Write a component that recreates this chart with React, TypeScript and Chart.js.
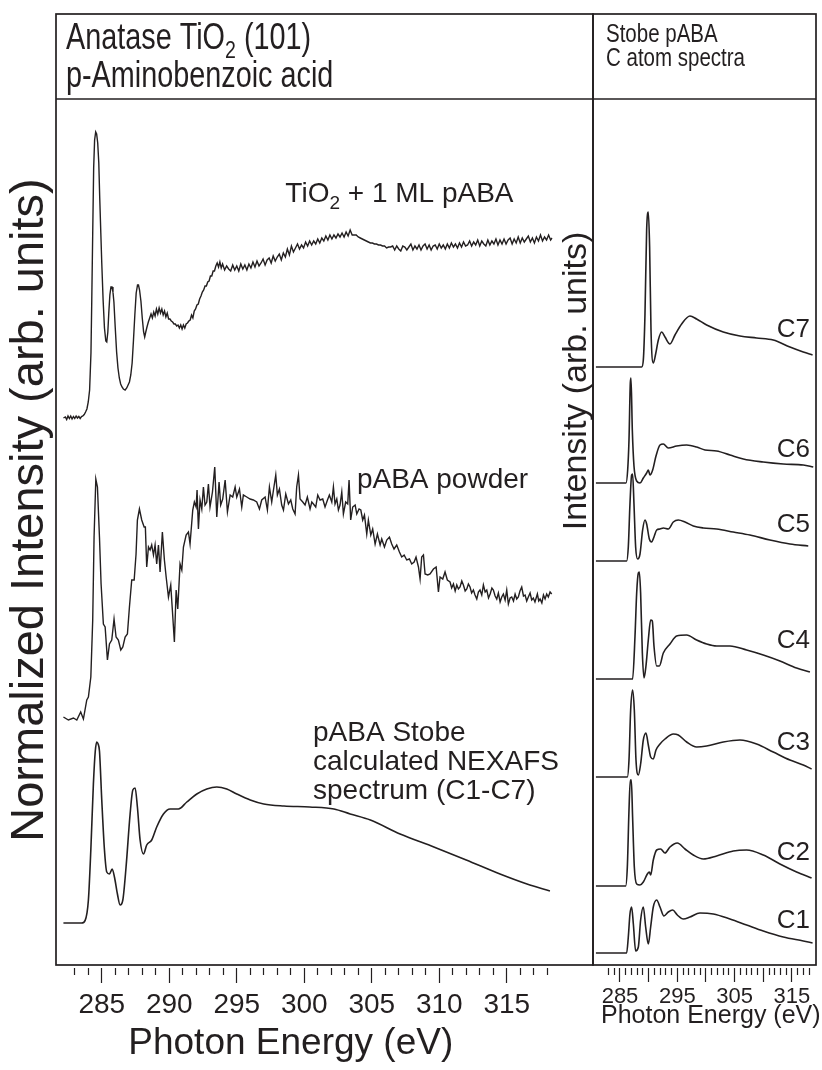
import React, { useEffect, useRef } from 'react';
import { Chart, registerables } from 'chart.js';

Chart.register(...registerables);

const FONT = "'Liberation Sans', Arial, Helvetica, sans-serif";
const INK = '#231f20';

// ---------- Left panel: [photon energy (eV), intensity above own baseline (arb. units)] ----------
const TIO2_PABA: number[][] = [
  [282.16,0],[282.3,0.1],[282.4,-0.15],[282.5,0.2],[282.6,-0.05],[282.7,0.2],[282.8,-0.1],[282.9,0.15],[283,-0.05],[283.1,0.2],
  [283.2,0],[283.3,0.15],[283.4,-0.05],[283.5,0.15],[283.6,0.2],[283.7,0.35],[283.8,0.6],[283.9,0.9],[284,1.6],[284.1,2.8],
  [284.2,6.5],[284.26,11.8],[284.33,18.5],[284.4,25],[284.47,27.8],[284.55,28.6],[284.62,28.4],[284.7,27.5],[284.78,25.5],[284.85,22],
  [284.93,18.5],[285,15.5],[285.1,11.8],[285.2,9],[285.3,7.7],[285.37,7.6],[285.45,8.6],[285.52,10.5],[285.6,12.3],[285.68,13.1],
  [285.76,13.1],[285.83,12.6],[285.9,11.6],[286,9],[286.1,6.6],[286.2,5],[286.3,4],[286.4,3.4],[286.5,3.1],[286.6,2.9],
  [286.73,2.8],[286.85,3],[286.95,3.3],[287.05,3.6],[287.15,4.3],[287.25,5.5],[287.35,7.8],[287.45,10.3],[287.55,12.5],[287.65,13.3],
  [287.72,13.3],[287.8,12.8],[287.9,11.7],[288,10],[288.1,8.6],[288.18,8.1],[288.26,8.6],[288.35,9.1],[288.45,9.6],[288.55,10],
  [288.65,10.4],[288.75,10],[288.85,10.6],[288.95,10.2],[289.05,10.9],[289.15,10.4],[289.25,11],[289.35,10.5],[289.45,10.9],[289.55,10.3],
  [289.65,10.7],[289.75,10.1],[289.85,10.5],[289.95,9.9],[290.05,9.9],[290.15,9.7],[290.25,9.6],[290.35,9.4],[290.45,9.4],[290.55,9.2],
  [290.65,9.3],[290.75,9],[290.85,9.3],[290.95,8.9],[291.05,9.3],[291.15,9],[291.25,9.4],[291.35,9.5],[291.45,9.7],[291.55,9.8],
  [291.65,10.3],[291.75,10],[291.85,10.7],[291.95,10.9],[292.05,11.3],[292.15,11.4],[292.25,11.9],[292.35,12.2],[292.45,12.6],[292.55,12.8],
  [292.65,13.2],[292.75,13.2],[292.85,13.6],[292.95,13.7],[293.05,14.2],[293.15,14.2],[293.25,14.7],[293.35,14.7],[293.45,15.2],[293.55,15.5],
  [293.65,15.1],[293.75,15.6],[293.85,15],[293.95,15.4],[294.1,14.8],[294.25,15.2],[294.4,14.9],[294.55,14.7],[294.7,15.3],[294.85,14.8],
  [295,15.2],[295.15,14.7],[295.3,15.4],[295.45,14.9],[295.6,15.3],[295.75,14.8],[295.9,15.4],[296.05,15],[296.2,15.6],[296.35,15.1],
  [296.5,15.7],[296.65,15.2],[296.8,15.5],[296.95,15.9],[297.1,15.3],[297.25,15.8],[297.4,16],[297.55,15.5],[297.7,16.2],[297.85,15.7],
  [298,16.1],[298.15,16.4],[298.3,15.8],[298.45,16.5],[298.6,16.1],[298.75,16.9],[298.9,16.3],[299.05,17.2],[299.2,16.6],[299.35,17],
  [299.5,17.4],[299.65,16.9],[299.8,17.3],[299.95,17],[300.1,17.6],[300.25,17.2],[300.4,17.7],[300.55,17.3],[300.7,17.7],[300.85,17.4],
  [301,17.9],[301.15,17.5],[301.3,18],[301.45,17.7],[301.6,18.2],[301.75,17.8],[301.9,18.3],[302.05,17.9],[302.2,18.3],[302.35,18],
  [302.5,18.4],[302.65,18.1],[302.8,18.5],[302.95,18.1],[303.1,18.6],[303.25,18.2],[303.4,18.8],[303.55,18.3],[303.7,18.3],[303.85,18.3],
  [304,18.1],[304.15,18],[304.3,17.9],[304.45,17.8],[304.6,17.7],[304.75,17.6],[304.9,17.5],[305.05,17.5],[305.2,17.4],[305.35,17.4],
  [305.5,17.3],[305.65,17.3],[305.8,17.2],[305.95,17.2],[306.1,17],[306.25,17.1],[306.4,17.1],[306.55,17.2],[306.7,16.8],[306.85,17.2],
  [307,16.9],[307.15,16.7],[307.3,17.2],[307.45,17.1],[307.6,16.8],[307.75,17.1],[307.9,17.4],[308.05,16.8],[308.2,17.2],[308.35,16.9],
  [308.5,17.3],[308.65,16.8],[308.8,17.2],[308.95,17.4],[309.1,16.9],[309.25,17.3],[309.4,16.8],[309.55,17.2],[309.7,17.3],[309.85,16.9],
  [310,17.4],[310.15,17],[310.3,17.3],[310.45,16.9],[310.6,17.4],[310.75,17],[310.9,17.5],[311.05,17.1],[311.2,17.4],[311.35,17],
  [311.5,17.5],[311.65,17.1],[311.8,17.6],[311.95,17.2],[312.1,17.3],[312.25,17.7],[312.4,17.2],[312.55,17.6],[312.7,17.3],[312.85,17.8],
  [313,17.2],[313.15,17.7],[313.3,17.4],[313.45,17.2],[313.6,17.8],[313.75,17.3],[313.9,17.7],[314.05,17.4],[314.2,17.9],[314.35,17.3],
  [314.5,17.8],[314.65,17.4],[314.8,17.9],[314.95,17.4],[315.1,17.8],[315.25,18],[315.4,17.4],[315.55,17.9],[315.7,17.5],[315.85,18.1],
  [316,17.5],[316.15,18],[316.3,17.6],[316.45,17.9],[316.6,18.2],[316.75,17.6],[316.9,18],[317.05,17.5],[317.2,18.1],[317.35,17.7],
  [317.5,18.3],[317.65,17.7],[317.8,18.1],[317.95,17.8],[318.1,18.3],[318.25,17.8],[318.35,18]
];

const PABA_POWDER: number[][] = [
  [282.16,0],[282.53,-0.3],[282.9,-0.1],[283.15,-0.3],[283.44,0.5],[283.64,-0.2],[283.89,1.7],[284.01,2],[284.19,4],[284.33,9.7],
  [284.43,18],[284.56,23.8],[284.68,23],[284.83,18],[284.95,13.3],[285.12,9.3],[285.25,9],[285.42,5.7],[285.57,7.3],[285.74,7.7],
  [285.91,9.8],[286.06,8],[286.23,7.7],[286.41,6.7],[286.56,7],[286.73,8],[286.9,8.3],[287.05,11],[287.22,13.7],[287.4,13.7],
  [287.54,16.3],[287.64,19.7],[287.79,20.8],[287.96,19.7],[288.14,19],[288.23,19],[288.33,15],[288.46,17],[288.58,16.7],[288.7,17.2],
  [288.83,16.2],[288.95,17.2],[289.07,15.3],[289.2,17.2],[289.32,14.5],[289.49,18.5],[289.64,15.7],[289.77,14],[289.94,12],[290.11,13.2],
  [290.23,10.7],[290.38,7.5],[290.51,12.7],[290.63,10.8],[290.8,15.3],[290.93,14.7],[291.05,17],[291.25,18.2],[291.42,18.5],[291.54,17.3],
  [291.74,20.7],[291.86,21.5],[291.99,21],[292.06,22.7],[292.16,18.8],[292.28,21.7],[292.41,20.8],[292.53,23],[292.65,21.2],[292.78,21.5],
  [292.9,23.3],[293.02,21],[293.2,22.5],[293.37,25],[293.52,20],[293.69,23.5],[293.81,21.2],[293.96,21.8],[294.14,23.7],[294.31,20.5],
  [294.51,22.2],[294.7,22],[294.88,23],[295,22],[295.2,22.8],[295.37,21],[295.49,22.2],[295.74,22],[295.99,21.8],[296.23,21.7],
  [296.48,21.5],[296.68,20.8],[296.85,21.7],[297.1,22],[297.27,20.7],[297.42,23],[297.59,21.5],[297.72,22.7],[297.89,24.2],[298.01,22.2],
  [298.16,22.8],[298.33,21.2],[298.46,20.7],[298.63,22.3],[298.83,21.3],[299,21.7],[299.15,20.8],[299.32,20.3],[299.44,23],[299.57,24.2],
  [299.69,21.8],[299.89,21.5],[300.06,21.2],[300.23,22],[300.43,20.8],[300.56,21.5],[300.68,21.3],[300.85,21],[301,22.2],[301.17,21.7],
  [301.37,21.8],[301.54,21],[301.72,21.7],[301.86,22.2],[302.04,21.5],[302.16,23],[302.28,21.3],[302.41,21.8],[302.53,20.7],[302.65,21.2],
  [302.78,22.5],[302.9,20.3],[303.07,21.5],[303.22,21.3],[303.32,23.7],[303.44,19.7],[303.59,21],[303.77,21.2],[303.89,20.3],[304.06,20.8],
  [304.19,20.7],[304.33,19.7],[304.46,20.2],[304.63,18.3],[304.75,19.7],[304.93,18.2],[305.07,18.8],[305.25,17.3],[305.42,18.3],[305.62,17.2],
  [305.74,17.8],[305.94,17],[306.11,17.7],[306.31,18],[306.48,17.3],[306.65,16.8],[306.85,17.2],[307.05,16.5],[307.22,16],[307.4,16.2],
  [307.59,15.7],[307.79,15.8],[307.96,15.3],[308.14,15.5],[308.28,16],[308.46,15],[308.58,13.8],[308.7,16],[308.83,16.2],[308.95,14.3],
  [309.15,14.2],[309.32,14.3],[309.57,14.8],[309.77,15],[309.94,12.5],[310.06,14],[310.26,13.8],[310.43,14.5],[310.6,13.7],[310.8,13.5],
  [310.92,12.9],[311.05,13.3],[311.18,12.6],[311.3,13.2],[311.42,12.8],[311.54,13],[311.67,13.6],[311.79,13.2],[311.92,12.6],[312.04,12.8],
  [312.16,13.3],[312.28,13],[312.4,12.4],[312.53,12.7],[312.65,12.2],[312.78,11.8],[312.9,12.5],[313.02,12.7],[313.15,12.2],[313.27,13.2],
  [313.4,12.5],[313.52,12.7],[313.65,11.9],[313.77,12.3],[313.9,12.9],[314.01,12.7],[314.14,12.1],[314.26,11.8],[314.38,12.4],[314.51,11.5],
  [314.63,12],[314.75,12.3],[314.88,11.7],[315,12.7],[315.12,11.3],[315.25,11.9],[315.37,12],[315.5,11.6],[315.62,12.3],[315.74,11.8],
  [315.86,12],[315.98,12.6],[316.11,13],[316.24,12.1],[316.36,12.2],[316.48,11.6],[316.6,12],[316.73,12.4],[316.85,11.7],[316.97,11.9],
  [317.09,11.5],[317.18,11.9],[317.27,12.3],[317.37,11.6],[317.47,11.8],[317.6,11.4],[317.72,12.2],[317.84,11.8],[317.96,12.3],[318.08,12],
  [318.21,12.5],[318.33,12.3]
];

const STOBE_SUM: number[][] = [
  [282.16,0],[283.5,0],[283.77,0.27],[284.01,2.3],[284.19,7.3],[284.38,13.9],[284.52,17.2],[284.63,18.1],[284.73,17.9],[284.83,17.2],
  [285,12.3],[285.2,7.3],[285.37,5.1],[285.57,4.9],[285.77,5.4],[285.94,4.6],[286.16,2.9],[286.36,1.8],[286.56,2.3],[286.8,5.6],
  [287.1,10.9],[287.3,13.3],[287.47,13.5],[287.64,11.6],[287.84,8.3],[288.09,6.9],[288.33,7.8],[288.7,8.3],[289.07,9.6],[289.57,10.9],
  [290.06,11.4],[290.68,11.4],[291.3,12.1],[292.04,12.9],[292.78,13.4],[293.52,13.6],[294.26,13.4],[295,12.9],[296,12.3],[297,11.9],
  [298.5,11.7],[300.4,11.6],[302.2,11.4],[303.4,10.9],[304.9,10.3],[307.1,8.9],[309.6,7.6],[312,6.3],[314.5,4.9],[316.5,3.9],[318.2,3.2]
];

const LEFT_OFFSETS = [54.7, 24.8, 4.2];
const LEFT_TICKS = [283,284,285,286,287,288,289,290,291,292,293,294,295,296,297,298,299,300,301,302,303,304,305,306,307,308,309,310,311,312,313,314,315,316,317,318];
const LEFT_TICK_LABELS = [285, 290, 295, 300, 305, 310, 315];

// ---------- Right panel: StoBe C atom spectra ----------
const C1: number[][] = [
  [280.8,0],[286.16,0],[286.45,1.6],[286.74,3.9],[287.03,4.6],[287.33,2.9],[287.73,0.2],[288.2,0.6],[288.6,3.3],[289.07,4.6],
  [289.48,2.6],[289.94,0.9],[290.35,2.6],[290.81,4.6],[291.4,5.3],[291.98,4.6],[292.67,3.7],[293.43,4.1],[294.19,4.3],[295,3.8],
  [296.05,3.4],[297.21,3.6],[298.95,4],[301.28,3.9],[304.19,3.4],[307.09,2.8],[310,2.2],[313.49,1.6],[316.98,1.2],[318.6,1]
];
const C2: number[][] = [
  [280.8,0],[285.99,0],[286.28,1.9],[286.57,7.6],[286.8,10.6],[286.98,10.6],[287.2,6.9],[287.5,1.9],[287.91,0.2],[288.49,0.1],
  [289.07,0.4],[289.77,1.2],[290.12,1.4],[290.35,1.1],[290.81,2.6],[291.4,3.6],[292.09,3.7],[292.85,3.3],[293.72,3.9],[295,4.3],
  [296.34,3.7],[297.79,3.1],[299.53,2.7],[301.86,3],[304.77,3.5],[307.09,3.6],[310,3.1],[312.91,2.2],[315.81,1.4],[318.43,0.8]
];
const C3: number[][] = [
  [280.8,0],[286.28,0],[286.57,1.7],[286.86,6.7],[287.2,8.7],[287.5,6.7],[287.79,1.7],[288.2,0.2],[288.6,1.3],[289.07,3.7],
  [289.53,4.4],[289.94,3.2],[290.35,2],[290.81,1.8],[291.28,2.7],[291.98,3.3],[292.85,3.8],[294.3,4.3],[295.17,4.2],[296.63,3.5],
  [298.37,3],[300.12,3.1],[303.02,3.5],[305.93,3.7],[308.84,3.3],[311.74,2.5],[314.65,1.7],[316.98,1.2],[318.43,0.8]
];
const C4: number[][] = [
  [280.8,0],[287.2,0],[287.62,4.3],[287.91,8.6],[288.2,10.6],[288.37,10.7],[288.6,8.6],[288.9,2.6],[289.19,0.1],[289.53,1.3],
  [289.94,3.9],[290.35,5.9],[290.64,5.8],[290.93,3.3],[291.4,1.3],[291.86,1.3],[292.56,2.6],[293.72,3.5],[294.88,4.3],[296.63,4.4],
  [298.37,3.9],[300.12,3.5],[301.86,3.3],[304.19,3.3],[307.09,2.9],[310,2.4],[312.91,1.8],[315.81,1.1],[318.14,0.7]
];
const C5: number[][] = [
  [280.8,0],[286.16,0],[286.45,1.4],[286.74,5.7],[287.03,8.6],[287.2,8.7],[287.44,5.7],[287.73,1.4],[288.08,0.2],[288.49,0.7],
  [288.95,3.1],[289.36,4.1],[289.65,3.7],[290.12,2.2],[290.52,1.9],[290.93,2.4],[291.4,3.1],[291.98,3.2],[292.56,3.3],[293.43,3.2],
  [294.3,3.9],[295.17,4.1],[296.34,3.9],[297.79,3.5],[299.53,3.3],[301.86,3.2],[304.77,2.9],[307.67,2.6],[311.16,2.1],[314.65,1.7],[317.85,1.5]
];
const C6: number[][] = [
  [280.8,0],[286.05,0],[286.34,1.3],[286.57,4.3],[286.8,10],[286.92,10.5],[287.15,5.3],[287.44,1.7],[287.91,0.2],[288.49,0],
  [289.07,0.5],[289.65,1],[289.94,1.3],[290.23,0.8],[290.7,1.3],[291.28,2.7],[291.98,3.8],[292.56,3.9],[293.43,3.5],[294.88,3.7],
  [296.63,3.8],[298.37,3.6],[299.83,3.3],[301.86,3.2],[304.19,2.8],[306.51,2.4],[310,2.1],[313.49,1.9],[316.98,1.8],[318.72,1.6]
];
const C7: number[][] = [
  [280.8,0],[288.78,0],[289.07,0.7],[289.36,5.3],[289.65,13.7],[289.94,15.5],[290.17,12],[290.41,3.7],[290.81,0.4],[291.22,1.3],
  [291.69,2.7],[292.27,3.5],[292.85,3],[293.72,2.3],[294.59,3.2],[295.76,4.3],[297.21,5.1],[298.37,4.8],[300.12,4.2],[303.02,3.5],
  [305.93,3.1],[308.84,2.9],[311.74,2.7],[314.65,2],[316.98,1.5],[318.6,1.2]
];
const ATOM_SPECTRA = [C1, C2, C3, C4, C5, C6, C7];
const ATOM_NAMES = ['C1', 'C2', 'C3', 'C4', 'C5', 'C6', 'C7'];
const ATOM_OFFSETS = [1.2, 7.9, 18.8, 28.6, 40.4, 48.2, 59.8];
const ATOM_LABEL_Y = [3.7, 10.5, 21.5, 31.7, 43.3, 50.8, 62.8];
const RIGHT_TICKS = LEFT_TICKS;
const RIGHT_TICK_LABELS = [285, 295, 305, 315];

// ---------- layout constants ----------
const W = 822, H = 1070;
const FRAME_TOP = 14, PLOT_TOP = 99, PLOT_BOTTOM = 965;
const LEFT_X0 = 56, SPLIT_X = 593, RIGHT_X1 = 816;
const AXIS_H = 80;
const Y_MAX = 86.6;

type Run = { t: string; sub?: boolean };

function drawRuns(ctx: CanvasRenderingContext2D, runs: Run[], x: number, y: number, size: number, sx = 1, align: 'left' | 'right' | 'center' = 'left') {
  ctx.save();
  ctx.textAlign = 'left';
  ctx.textBaseline = 'alphabetic';
  let total = 0;
  for (const r of runs) {
    ctx.font = `${r.sub ? size * 0.68 : size}px ${FONT}`;
    total += ctx.measureText(r.t).width;
  }
  ctx.translate(x, y);
  ctx.scale(sx, 1);
  let cx = align === 'left' ? 0 : align === 'right' ? -total : -total / 2;
  for (const r of runs) {
    ctx.font = `${r.sub ? size * 0.68 : size}px ${FONT}`;
    ctx.fillText(r.t, cx, r.sub ? size * 0.24 : 0);
    cx += ctx.measureText(r.t).width;
  }
  ctx.restore();
}

function series(points: number[][], offset: number, smooth: boolean) {
  return {
    data: points.map(([e, v]) => ({ x: e, y: v + offset })),
    borderColor: INK,
    borderWidth: smooth ? 1.6 : 1.4,
    pointRadius: 0,
    fill: false,
    tension: 0,
    cubicInterpolationMode: smooth ? 'monotone' : 'default',
  };
}

function xAxis(min: number, max: number, ticks: number[], labels: number[], size: number, major: number, minor: number, pad: number) {
  return {
    type: 'linear',
    position: 'bottom',
    min,
    max,
    afterBuildTicks: (s: any) => { s.ticks = ticks.map((v) => ({ value: v })); },
    afterFit: (s: any) => { s.height = AXIS_H; },
    ticks: {
      autoSkip: false,
      maxRotation: 0,
      minRotation: 0,
      padding: pad,
      color: INK,
      font: { family: FONT, size },
      callback: (v: any) => (labels.includes(Number(v)) ? String(v) : ''),
    },
    grid: {
      drawOnChartArea: false,
      drawTicks: true,
      tickLength: 3 + major,
      tickWidth: 1.2,
      tickColor: INK,
      tickBorderDash: (c: any) => (c.tick && c.tick.value % 5 === 0 ? [0, 3, major, 300] : [0, 3, minor, 300]),
    },
    border: { display: false },
  };
}

function frame(ctx: CanvasRenderingContext2D, a: any) {
  ctx.save();
  ctx.strokeStyle = INK;
  ctx.lineWidth = 1.7;
  ctx.strokeRect(a.left, FRAME_TOP, a.right - a.left, a.bottom - FRAME_TOP);
  ctx.beginPath();
  ctx.moveTo(a.left, a.top);
  ctx.lineTo(a.right, a.top);
  ctx.stroke();
  ctx.restore();
}

const leftText = {
  id: 'leftText',
  afterDraw(chart: any) {
    const { ctx, chartArea: a } = chart;
    const xs = chart.scales.x, ys = chart.scales.y;
    frame(ctx, a);
    ctx.save();
    ctx.fillStyle = INK;
    drawRuns(ctx, [{ t: 'Anatase TiO' }, { t: '2', sub: true }, { t: ' (101)' }], a.left + 10, 49, 36, 0.8);
    drawRuns(ctx, [{ t: 'p-Aminobenzoic acid' }], a.left + 10, 87, 36, 0.8);
    drawRuns(ctx, [{ t: 'TiO' }, { t: '2', sub: true }, { t: ' + 1 ML pABA' }], xs.getPixelForValue(298.6), ys.getPixelForValue(76.3), 28);
    drawRuns(ctx, [{ t: 'pABA powder' }], xs.getPixelForValue(303.9), ys.getPixelForValue(47.7), 28);
    drawRuns(ctx, [{ t: 'pABA Stobe' }], xs.getPixelForValue(300.65), ys.getPixelForValue(22.4), 28);
    drawRuns(ctx, [{ t: 'calculated NEXAFS' }], xs.getPixelForValue(300.65), ys.getPixelForValue(19.5), 28);
    drawRuns(ctx, [{ t: 'spectrum (C1-C7)' }], xs.getPixelForValue(300.65), ys.getPixelForValue(16.6), 28);
    drawRuns(ctx, [{ t: 'Photon Energy (eV)' }], xs.getPixelForValue(299.0), 1054, 37, 1, 'center');
    ctx.save();
    ctx.translate(43, 510);
    ctx.rotate(-Math.PI / 2);
    drawRuns(ctx, [{ t: 'Normalized Intensity (arb. units)' }], 0, 0, 47, 1, 'center');
    ctx.restore();
    ctx.restore();
  },
};

const rightText = {
  id: 'rightText',
  afterDraw(chart: any) {
    const { ctx, chartArea: a } = chart;
    const xs = chart.scales.x, ys = chart.scales.y;
    frame(ctx, a);
    ctx.save();
    ctx.fillStyle = INK;
    drawRuns(ctx, [{ t: 'Stobe pABA' }], a.left + 13, 42, 25, 0.82);
    drawRuns(ctx, [{ t: 'C atom spectra' }], a.left + 13, 66, 25, 0.82);
    ATOM_NAMES.forEach((n, i) => {
      drawRuns(ctx, [{ t: n }], xs.getPixelForValue(318.16), ys.getPixelForValue(ATOM_LABEL_Y[i]), 26, 1, 'right');
    });
    drawRuns(ctx, [{ t: 'Photon Energy (eV)' }], a.left + 8, 1023, 25);
    ctx.save();
    ctx.translate(586, 381);
    ctx.rotate(-Math.PI / 2);
    drawRuns(ctx, [{ t: 'Intensity (arb. units)' }], 0, 0, 34, 1, 'center');
    ctx.restore();
    ctx.restore();
  },
};

function baseOptions(padding: any, x: any) {
  return {
    responsive: false,
    animation: false,
    devicePixelRatio: 1,
    events: [],
    layout: { padding },
    plugins: { legend: { display: false }, tooltip: { enabled: false }, title: { display: false } },
    scales: {
      x,
      y: { type: 'linear', display: false, min: 0, max: Y_MAX },
    },
  };
}

export default function App() {
  const leftRef = useRef<HTMLCanvasElement>(null);
  const rightRef = useRef<HTMLCanvasElement>(null);

  useEffect(() => {
    const padBottom = H - PLOT_BOTTOM - AXIS_H;
    const left = new Chart(leftRef.current as HTMLCanvasElement, {
      type: 'line',
      data: {
        datasets: [
          series(TIO2_PABA, LEFT_OFFSETS[0], false),
          series(PABA_POWDER, LEFT_OFFSETS[1], false),
          series(STOBE_SUM, LEFT_OFFSETS[2], true),
        ] as any,
      },
      options: baseOptions(
        { left: LEFT_X0, right: W - SPLIT_X, top: PLOT_TOP, bottom: padBottom },
        xAxis(281.61, 321.39, LEFT_TICKS, LEFT_TICK_LABELS, 28, 15, 7, 5),
      ) as any,
      plugins: [leftText],
    });
    const right = new Chart(rightRef.current as HTMLCanvasElement, {
      type: 'line',
      data: {
        datasets: ATOM_SPECTRA.map((s, i) => series(s, ATOM_OFFSETS[i], true)) as any,
      },
      options: baseOptions(
        { left: SPLIT_X, right: W - RIGHT_X1, top: PLOT_TOP, bottom: padBottom },
        xAxis(280.29, 319.2, RIGHT_TICKS, RIGHT_TICK_LABELS, 22, 14, 7, 2),
      ) as any,
      plugins: [rightText],
    });
    return () => {
      left.destroy();
      right.destroy();
    };
  }, []);

  const canvasStyle: React.CSSProperties = { position: 'absolute', left: 0, top: 0, width: W, height: H };
  return (
    <div style={{ position: 'absolute', left: 0, top: 0, width: W, height: H, background: '#ffffff' }}>
      <canvas ref={leftRef} width={W} height={H} style={canvasStyle} />
      <canvas ref={rightRef} width={W} height={H} style={canvasStyle} />
    </div>
  );
}
